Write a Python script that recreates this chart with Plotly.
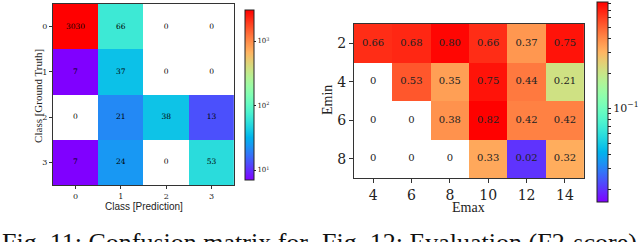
import math
import numpy as np
import plotly.graph_objects as go

# ---------------- data ----------------
cm_classes = [0, 1, 2, 3]
cm_values = [
    [3030, 66, 0, 0],
    [7, 37, 0, 0],
    [0, 21, 38, 13],
    [7, 24, 0, 53],
]
cm_cbar_ticks = [10, 100, 1000]
cm_cbar_labels = ["10<sup>1</sup>", "10<sup>2</sup>", "10<sup>3</sup>"]

emax_vals = [4, 6, 8, 10, 12, 14]
emin_vals = [2, 4, 6, 8]
f2_values = [
    [0.66, 0.68, 0.80, 0.66, 0.37, 0.75],
    [0, 0.53, 0.35, 0.75, 0.44, 0.21],
    [0, 0, 0.38, 0.82, 0.42, 0.42],
    [0, 0, 0, 0.33, 0.02, 0.32],
]
f2_cbar_ticks = [0.02, 0.03, 0.04, 0.05, 0.06, 0.07, 0.08, 0.09,
                 0.1, 0.2, 0.3, 0.4, 0.5, 0.6, 0.7, 0.8]
f2_cbar_labels = ["10<sup>\u22121</sup>" if t == 0.1 else "" for t in f2_cbar_ticks]
f2_color_min = 0.0155   # colour-scale limits (log norm)
f2_color_max = 0.824

# ---------------- style ----------------
W, H = 640, 242


def px_x(p):
    return p / W


def px_y(p):
    return 1 - p / H


def rainbow_scale(n=21):
    stops = []
    for i in range(n):
        t = i / (n - 1)
        r = min(1.0, abs(2 * t - 0.5))
        g = math.sin(math.pi * t)
        b = math.cos(math.pi * t / 2)
        stops.append([t, "rgb(%d,%d,%d)" % (round(255 * r), round(255 * max(g, 0)), round(255 * max(b, 0)))])
    return stops


RAINBOW = rainbow_scale()
SERIF = "DejaVu Serif"
TIMES = "Liberation Serif"


def log_or_none(m):
    return [[math.log10(v) if v > 0 else None for v in row] for row in m]


fig = go.Figure()

# ---- left: confusion matrix ----
fig.add_trace(go.Heatmap(
    x=cm_classes, y=cm_classes, z=log_or_none(cm_values),
    zmin=math.log10(min(v for r in cm_values for v in r if v > 0)),
    zmax=math.log10(max(v for r in cm_values for v in r)),
    colorscale=RAINBOW, xaxis="x", yaxis="y", hoverinfo="skip",
    colorbar=dict(
        x=px_x(246), xanchor="left", xpad=0, ypad=0,
        y=px_y(95), yanchor="middle", len=170 / H, lenmode="fraction",
        thickness=9, outlinewidth=1, outlinecolor="#222",
        tickvals=[math.log10(t) for t in cm_cbar_ticks], ticktext=cm_cbar_labels,
        ticks="outside", ticklen=2, tickcolor="#222",
        tickfont=dict(family=SERIF, size=7, color="#222"),
    ),
))
cx, cy, ct = [], [], []
for i, row in enumerate(cm_values):
    for j, v in enumerate(row):
        cx.append(cm_classes[j]); cy.append(cm_classes[i]); ct.append(str(v))
fig.add_trace(go.Scatter(x=cx, y=cy, text=ct, mode="text", xaxis="x", yaxis="y",
                         textfont=dict(family=SERIF, size=7.5, color="#000"),
                         hoverinfo="skip", showlegend=False))

# ---- right: F2 score ----
fig.add_trace(go.Heatmap(
    x=emax_vals, y=emin_vals, z=log_or_none(f2_values),
    zmin=math.log10(f2_color_min), zmax=math.log10(f2_color_max),
    colorscale=RAINBOW, xaxis="x2", yaxis="y2", hoverinfo="skip",
    colorbar=dict(
        x=px_x(599), xanchor="left", xpad=0, ypad=0,
        y=px_y(102), yanchor="middle", len=200 / H, lenmode="fraction",
        thickness=11, outlinewidth=1, outlinecolor="#222",
        tickvals=[math.log10(t) for t in f2_cbar_ticks], ticktext=f2_cbar_labels,
        ticks="outside", ticklen=3, tickcolor="#222",
        tickfont=dict(family=SERIF, size=11, color="#222"),
    ),
))
fx, fy, ft = [], [], []
for i, row in enumerate(f2_values):
    for j, v in enumerate(row):
        fx.append(emax_vals[j]); fy.append(emin_vals[i]); ft.append("0" if v == 0 else "%.2f" % v)
fig.add_trace(go.Scatter(x=fx, y=fy, text=ft, mode="text", xaxis="x2", yaxis="y2",
                         textfont=dict(family=SERIF, size=10, color="#222"),
                         hoverinfo="skip", showlegend=False))

axis_common = dict(showgrid=False, zeroline=False, showline=True, mirror=True,
                   linecolor="#333", linewidth=1, ticks="outside", tickcolor="#333")

fig.update_layout(
    width=W, height=H, margin=dict(l=0, r=0, t=0, b=0),
    paper_bgcolor="white", plot_bgcolor="white", showlegend=False,
    xaxis=dict(domain=[px_x(53), px_x(235)], range=[-0.5, 3.5], tickvals=cm_classes,
               ticklen=3, tickfont=dict(family=SERIF, size=8, color="#222"), anchor="y", **axis_common),
    yaxis=dict(domain=[px_y(185), px_y(4)], range=[3.5, -0.5], tickvals=cm_classes,
               ticklen=3, tickfont=dict(family=SERIF, size=8, color="#222"), anchor="x", **axis_common),
    xaxis2=dict(domain=[px_x(355), px_x(586)], range=[3, 15], tickvals=emax_vals,
                ticklen=4, tickfont=dict(family=SERIF, size=14, color="#222"), anchor="y2", **axis_common),
    yaxis2=dict(domain=[px_y(178), px_y(24)], range=[9, 1], tickvals=emin_vals,
                ticklen=4, tickfont=dict(family=SERIF, size=14, color="#222"), anchor="x2", **axis_common),
    annotations=[
        dict(text="Class [Prediction]", x=px_x(144), y=px_y(206), xref="paper", yref="paper",
             xanchor="center", yanchor="middle", showarrow=False,
             font=dict(family="Liberation Sans", size=10, color="#222")),
        dict(text="Class [Ground Truth]", x=px_x(38), y=px_y(96), xref="paper", yref="paper",
             xanchor="center", yanchor="middle", textangle=-90, showarrow=False,
             font=dict(family=TIMES, size=11, color="#222")),
        dict(text="Emax", x=px_x(470), y=px_y(207), xref="paper", yref="paper",
             xanchor="center", yanchor="middle", showarrow=False,
             font=dict(family=TIMES, size=14, color="#222")),
        dict(text="Emin", x=px_x(329), y=px_y(100), xref="paper", yref="paper",
             xanchor="center", yanchor="middle", textangle=-90, showarrow=False,
             font=dict(family=TIMES, size=14, color="#222")),
        dict(text="Fig. 11: Confusion matrix for", x=px_x(0), y=px_y(226), xref="paper", yref="paper",
             xanchor="left", yanchor="top", showarrow=False,
             font=dict(family=TIMES, size=26, color="#111")),
        dict(text="Fig. 12: Evaluation (F2-score)", x=px_x(321), y=px_y(226), xref="paper", yref="paper",
             xanchor="left", yanchor="top", showarrow=False,
             font=dict(family=TIMES, size=26, color="#111")),
    ],
)

fig.write_html("out.html", config={"displayModeBar": False, "staticPlot": True},
               post_script="document.body.style.margin='0';document.body.style.overflow='hidden';")
